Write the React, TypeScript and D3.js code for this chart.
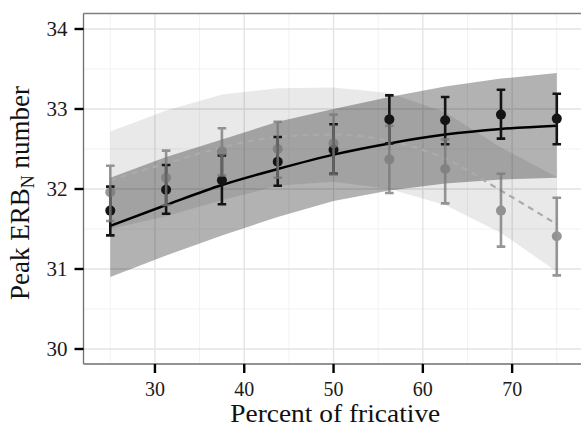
import React, { useEffect, useRef } from "react";
import * as d3 from "d3";

// percent of fricative (x positions of the steps)
const percent = [25, 31.25, 37.5, 43.75, 50, 56.25, 62.5, 68.75, 75];

// dark series: observed means with error bars
const darkMean = [31.73, 31.99, 32.11, 32.34, 32.49, 32.87, 32.86, 32.93, 32.88];
const darkLow = [31.42, 31.69, 31.81, 32.04, 32.19, 32.57, 32.56, 32.63, 32.56];
const darkHigh = [32.03, 32.30, 32.42, 32.65, 32.81, 33.17, 33.15, 33.24, 33.19];

// light series: observed means with error bars
const lightMean = [31.96, 32.14, 32.47, 32.50, 32.57, 32.37, 32.25, 31.73, 31.41];
const lightLow = [31.60, 31.80, 32.17, 32.14, 32.18, 31.95, 31.82, 31.28, 30.92];
const lightHigh = [32.29, 32.48, 32.76, 32.84, 32.93, 32.79, 32.62, 32.19, 31.89];

// model fits + confidence bands
const darkFit = [31.54, 31.80, 32.05, 32.25, 32.43, 32.57, 32.68, 32.75, 32.79];
const darkFitLow = [30.90, 31.17, 31.42, 31.65, 31.85, 31.98, 32.07, 32.12, 32.14];
const darkFitHigh = [32.14, 32.40, 32.62, 32.84, 33.00, 33.15, 33.28, 33.38, 33.45];

const lightFit = [32.11, 32.32, 32.52, 32.65, 32.68, 32.60, 32.38, 31.98, 31.56];
const lightFitLow = [31.50, 31.66, 31.86, 32.04, 32.09, 32.00, 31.80, 31.45, 30.97];
const lightFitHigh = [32.72, 32.98, 33.18, 33.26, 33.27, 33.20, 32.96, 32.52, 32.15];

const xTicks = [30, 40, 50, 60, 70];
const xMinor = [25, 35, 45, 55, 65, 75];
const yTicks = [30, 31, 32, 33, 34];
const yMinor = [30.5, 31.5, 32.5, 33.5];

const FONT = "'Liberation Serif', 'Times New Roman', serif";

export default function App() {
    const ref = useRef(null);

    useEffect(() => {
        const width = 581;
        const panel = { left: 83.5, top: 13.5, bottom: 364 };

        const svg = d3.select(ref.current);
        svg.selectAll("*").remove();

        const x = d3.scaleLinear().domain([22, 78]).range([panel.left, panel.left + 56 * 8.93]);
        const y = d3.scaleLinear().domain([30, 34]).range([349, 29]);

        // ==========================
        // grid
        // ==========================
        const grid = svg.append("g");
        grid.selectAll(".xminor").data(xMinor).enter().append("line")
            .attr("x1", d => x(d)).attr("x2", d => x(d))
            .attr("y1", panel.top).attr("y2", panel.bottom)
            .attr("stroke", "#f2f2f2").attr("stroke-width", 1);
        grid.selectAll(".yminor").data(yMinor).enter().append("line")
            .attr("x1", panel.left).attr("x2", width)
            .attr("y1", d => y(d)).attr("y2", d => y(d))
            .attr("stroke", "#f2f2f2").attr("stroke-width", 1);
        grid.selectAll(".xmajor").data(xTicks).enter().append("line")
            .attr("x1", d => x(d)).attr("x2", d => x(d))
            .attr("y1", panel.top).attr("y2", panel.bottom)
            .attr("stroke", "#e3e3e3").attr("stroke-width", 1.3);
        grid.selectAll(".ymajor").data(yTicks).enter().append("line")
            .attr("x1", panel.left).attr("x2", width)
            .attr("y1", d => y(d)).attr("y2", d => y(d))
            .attr("stroke", "#e3e3e3").attr("stroke-width", 1.3);

        // ==========================
        // bands
        // ==========================
        const band = (lo, hi) => d3.area()
            .x((d, i) => x(percent[i]))
            .y0((d, i) => y(lo[i]))
            .y1((d, i) => y(hi[i]))(percent);

        svg.append("path").attr("d", band(lightFitLow, lightFitHigh))
            .attr("fill", "#000").attr("fill-opacity", 0.085);
        svg.append("path").attr("d", band(darkFitLow, darkFitHigh))
            .attr("fill", "#000").attr("fill-opacity", 0.3);

        // ==========================
        // fit lines
        // ==========================
        const line = vals => d3.line()
            .x((d, i) => x(percent[i]))
            .y((d, i) => y(vals[i]))
            .curve(d3.curveMonotoneX)(percent);

        svg.append("path").attr("d", line(lightFit))
            .attr("fill", "none").attr("stroke", "#ababab")
            .attr("stroke-width", 2.2).attr("stroke-dasharray", "6,5");
        svg.append("path").attr("d", line(darkFit))
            .attr("fill", "none").attr("stroke", "#000")
            .attr("stroke-width", 2.5);

        // ==========================
        // error bars + points
        // ==========================
        const cap = 0.48;
        const drawSeries = (mean, lo, hi, color, opacity) => {
            const g = svg.append("g").attr("opacity", opacity);
            const rows = percent.map((p, i) => ({ p, m: mean[i], lo: lo[i], hi: hi[i] }));
            g.selectAll(".bar").data(rows).enter().append("path")
                .attr("d", d => `M${x(d.p)},${y(d.lo)}V${y(d.hi)}` +
                    `M${x(d.p - cap)},${y(d.lo)}H${x(d.p + cap)}` +
                    `M${x(d.p - cap)},${y(d.hi)}H${x(d.p + cap)}`)
                .attr("fill", "none").attr("stroke", color).attr("stroke-width", 2.6);
            g.selectAll(".pt").data(rows).enter().append("circle")
                .attr("cx", d => x(d.p)).attr("cy", d => y(d.m))
                .attr("r", 5).attr("fill", color);
        };
        drawSeries(darkMean, darkLow, darkHigh, "#141414", 1);
        drawSeries(lightMean, lightLow, lightHigh, "#7a7a7a", 0.78);

        // ==========================
        // frame + axes
        // ==========================
        svg.append("line").attr("x1", panel.left).attr("x2", width)
            .attr("y1", panel.top).attr("y2", panel.top)
            .attr("stroke", "#7f7f7f").attr("stroke-width", 1.3);
        svg.append("line").attr("x1", panel.left).attr("x2", panel.left)
            .attr("y1", panel.top).attr("y2", panel.bottom)
            .attr("stroke", "#6f6f6f").attr("stroke-width", 1.3);
        svg.append("line").attr("x1", panel.left).attr("x2", width)
            .attr("y1", panel.bottom).attr("y2", panel.bottom)
            .attr("stroke", "#6f6f6f").attr("stroke-width", 1.3);

        svg.selectAll(".ytick").data(yTicks).enter().append("line")
            .attr("x1", panel.left - 9).attr("x2", panel.left)
            .attr("y1", d => y(d)).attr("y2", d => y(d))
            .attr("stroke", "#000").attr("stroke-width", 2.4);
        svg.selectAll(".xtick").data(xTicks).enter().append("line")
            .attr("x1", d => x(d)).attr("x2", d => x(d))
            .attr("y1", panel.bottom).attr("y2", panel.bottom + 9)
            .attr("stroke", "#000").attr("stroke-width", 2.4);

        svg.selectAll(".ylab").data(yTicks).enter().append("text")
            .attr("x", panel.left - 16).attr("y", d => y(d) + 7)
            .attr("text-anchor", "end")
            .attr("font-family", FONT).attr("font-size", 21).attr("fill", "#1a1a1a")
            .text(d => d);
        svg.selectAll(".xlab").data(xTicks).enter().append("text")
            .attr("x", d => x(d)).attr("y", 396)
            .attr("text-anchor", "middle")
            .attr("font-family", FONT).attr("font-size", 20).attr("fill", "#1a1a1a")
            .text(d => d);

        svg.append("text")
            .attr("x", (panel.left + width) / 2 + 3).attr("y", 422)
            .attr("text-anchor", "middle")
            .attr("font-family", FONT).attr("font-size", 26).attr("fill", "#111")
            .attr("textLength", 210).attr("lengthAdjust", "spacingAndGlyphs")
            .text("Percent of fricative");

        const yt = svg.append("text")
            .attr("transform", `translate(29,${193}) rotate(-90)`)
            .attr("text-anchor", "middle")
            .attr("font-family", FONT).attr("font-size", 27).attr("fill", "#111");
        yt.append("tspan").text("Peak ERB");
        yt.append("tspan").attr("font-size", 18).attr("dy", 5).text("N");
        yt.append("tspan").attr("dy", -5).text(" number");
    }, []);

    return (
        <svg
            ref={ref}
            width={581}
            height={427}
            style={{ position: "absolute", left: 0, top: 0, background: "#fff" }}
        />
    );
}
